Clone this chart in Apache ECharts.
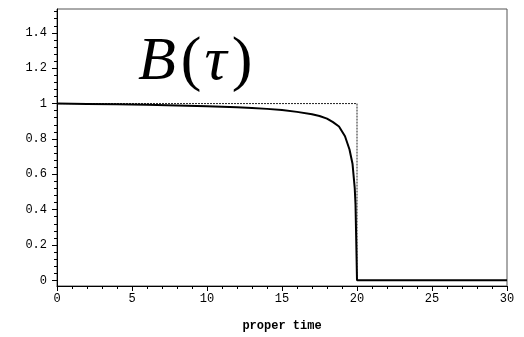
<!DOCTYPE html>
<html>
<head>
<meta charset="utf-8">
<script src="https://cdn.jsdelivr.net/npm/echarts@6/dist/echarts.min.js"></script>
<style>
  html, body { margin: 0; padding: 0; background: #fff; }
  #chart { width: 524px; height: 337px; }
</style>
</head>
<body>
<div id="chart"></div>
<script>
// B(tau)
const tauValues = [0, 2, 4, 6, 8, 10, 12, 13, 14, 15, 16, 17, 17.5, 18, 18.4, 18.8, 19.2, 19.5, 19.7, 19.85, 19.9, 19.95, 20, 30];
const bValues   = [1, 0.998, 0.996, 0.993, 0.989, 0.985, 0.979, 0.975, 0.97, 0.963, 0.953, 0.94, 0.93, 0.915, 0.895, 0.87, 0.815, 0.74, 0.66, 0.52, 0.43, 0.22, 0, 0];

// dotted step reference
const stepTau    = [0, 20, 20];
const stepValues = [1, 1, 0];

const xTicks = [0, 5, 10, 15, 20, 25, 30];
const yTicks = [0, 0.2, 0.4, 0.6, 0.8, 1, 1.2, 1.4];
const yMinorTicks = [];
for (let i = 0; i < yTicks.length; i++) {
  for (let k = 1; k < 5; k++) yMinorTicks.push(+(yTicks[i] + k * 0.04).toFixed(2));
}

const pairs = (xs, ys) => xs.map((x, i) => [x, ys[i]]);

const chart = echarts.init(document.getElementById('chart'));
const monoFont = '"Liberation Mono", "DejaVu Sans Mono", monospace';
const serifFont = '"Liberation Serif", serif';

const option = {
  animation: false,
  backgroundColor: '#fff',
  title: {
    left: 133,
    top: 27,
    text: '{i|B}{n|(}{i|τ}{n|)}',
    textStyle: {
      rich: {
        i: { fontFamily: serifFont, fontStyle: 'italic', fontWeight: 'normal', fontSize: 62, color: '#000', padding: [0, 2, 0, 0] },
        n: { fontFamily: serifFont, fontWeight: 'normal', fontSize: 62, color: '#000', padding: [0, 3, 0, 3] }
      }
    }
  },
  grid: {
    left: 57,
    right: 17,
    top: 9,
    bottom: 39,
    show: true,
    borderColor: '#555',
    borderWidth: 1
  },
  xAxis: {
    type: 'value',
    min: 0,
    max: 30,
    interval: 5,
    name: 'proper time',
    nameLocation: 'middle',
    nameGap: 34,
    nameTextStyle: { fontFamily: monoFont, fontSize: 12, fontWeight: 'bold', color: '#000' },
    axisLine: { show: true, onZero: false, lineStyle: { color: '#000', width: 1 } },
    axisTick: { show: true, length: 5, lineStyle: { color: '#000' } },
    minorTick: { show: true, splitNumber: 5, length: 3, lineStyle: { color: '#000' } },
    splitLine: { show: false },
    axisLabel: { fontFamily: monoFont, fontSize: 12, color: '#000', margin: 7 }
  },
  yAxis: [
    {
      type: 'value',
      min: -0.032,
      max: 1.535,
      axisLine: { show: true, onZero: false, lineStyle: { color: '#000', width: 1 } },
      axisTick: { show: true, length: 5, customValues: yTicks, lineStyle: { color: '#000' } },
      splitLine: { show: false },
      axisLabel: {
        customValues: yTicks,
        fontFamily: monoFont, fontSize: 12, color: '#000', margin: 10,
        formatter: v => String(+v.toFixed(1))
      }
    },
    {
      type: 'value',
      min: -0.032,
      max: 1.535,
      position: 'left',
      axisLine: { show: false },
      axisTick: { show: true, length: 3, customValues: yMinorTicks, lineStyle: { color: '#000' } },
      axisLabel: { show: false },
      splitLine: { show: false }
    }
  ],
  series: [
    {
      name: 'step',
      type: 'line',
      data: pairs(stepTau, stepValues),
      showSymbol: false,
      lineStyle: { color: '#222', width: 1, type: [2, 1] },
      z: 1
    },
    {
      name: 'B',
      type: 'line',
      data: pairs(tauValues, bValues),
      showSymbol: false,
      lineStyle: { color: '#000', width: 2 },
      z: 2
    }
  ]
};

chart.setOption(option);
</script>
</body>
</html>
